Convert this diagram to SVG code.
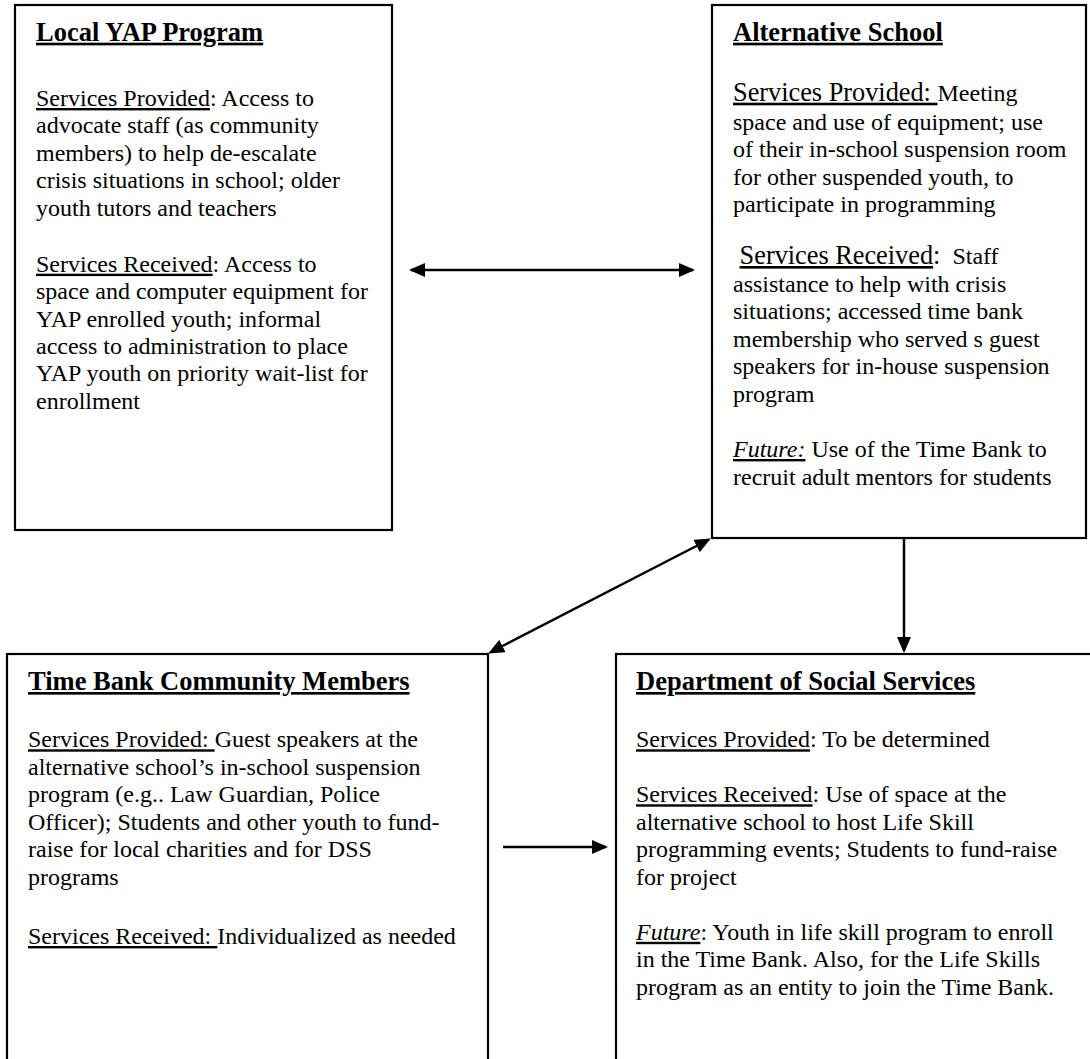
<svg xmlns="http://www.w3.org/2000/svg" width="1090" height="1059" viewBox="0 0 1090 1059">
  <style>
    .box { fill: #ffffff; stroke: #000000; stroke-width: 2.2; }
    text { font-family: "Liberation Serif", "Times New Roman", serif; font-size: 24px; fill: #000000; white-space: pre; }
    .title { font-weight: bold; font-size: 26.5px; text-decoration: underline; }
    .u { text-decoration: underline; }
    .big { font-size: 26.3px; }
    .i { font-style: italic; }
    .link { stroke: #000000; stroke-width: 2.5; fill: none; }
  </style>
  <defs>
    <marker id="arrow" viewBox="0 0 16 14" refX="14" refY="7" markerWidth="16" markerHeight="14" markerUnits="userSpaceOnUse" orient="auto-start-reverse">
      <path d="M0,0 L16,7 L0,14 Z" fill="#000000"/>
    </marker>
  </defs>

  <rect x="0" y="0" width="1090" height="1059" fill="#ffffff"/>

  <!-- Local YAP Program -->
  <g id="local-yap">
    <rect class="box" x="15" y="5" width="377" height="525"/>
    <text class="title" x="36" y="40.7">Local YAP Program</text>
    <text x="36" y="106"><tspan class="u">Services Provided</tspan>: Access to</text>
    <text x="36" y="133.4">advocate staff (as community</text>
    <text x="36" y="160.8">members) to help de-escalate</text>
    <text x="36" y="188.2">crisis situations in school; older</text>
    <text x="36" y="215.6">youth tutors and teachers</text>
    <text x="36" y="271.7"><tspan class="u">Services Received</tspan>: Access to</text>
    <text x="36" y="299.1">space and computer equipment for</text>
    <text x="36" y="326.5">YAP enrolled youth; informal</text>
    <text x="36" y="353.9">access to administration to place</text>
    <text x="36" y="381.3">YAP youth on priority wait-list for</text>
    <text x="36" y="408.7">enrollment</text>
  </g>

  <!-- Alternative School -->
  <g id="alternative-school">
    <rect class="box" x="712" y="5" width="374" height="533"/>
    <text class="title" x="733" y="40.7">Alternative School</text>
    <text x="733" y="100.7"><tspan class="u big">Services Provided: </tspan>Meeting</text>
    <text x="733" y="130">space and use of equipment; use</text>
    <text x="733" y="157.4">of their in-school suspension room</text>
    <text x="733" y="184.8">for other suspended youth, to</text>
    <text x="733" y="212.2">participate in programming</text>
    <text x="733" y="264"><tspan class="big"> </tspan><tspan class="u big">Services Received</tspan><tspan class="big">:</tspan>  Staff</text>
    <text x="733" y="291.6">assistance to help with crisis</text>
    <text x="733" y="319.2">situations; accessed time bank</text>
    <text x="733" y="346.8">membership who served s guest</text>
    <text x="733" y="374.4">speakers for in-house suspension</text>
    <text x="733" y="402">program</text>
    <text x="733" y="457"><tspan class="u i">Future:</tspan> Use of the Time Bank to</text>
    <text x="733" y="485">recruit adult mentors for students</text>
  </g>

  <!-- Time Bank Community Members -->
  <g id="time-bank">
    <rect class="box" x="7" y="654" width="481" height="420"/>
    <text class="title" x="28" y="690">Time Bank Community Members</text>
    <text x="28" y="747.3"><tspan class="u">Services Provided: </tspan>Guest speakers at the</text>
    <text x="28" y="774.8">alternative school’s in-school suspension</text>
    <text x="28" y="802.3">program (e.g.. Law Guardian, Police</text>
    <text x="28" y="829.8">Officer); Students and other youth to fund-</text>
    <text x="28" y="857.3">raise for local charities and for DSS</text>
    <text x="28" y="884.8">programs</text>
    <text x="28" y="944"><tspan class="u">Services Received: </tspan>Individualized as needed</text>
  </g>

  <!-- Department of Social Services -->
  <g id="dss">
    <rect class="box" x="616" y="654" width="500" height="420"/>
    <text class="title" x="636" y="690">Department of Social Services</text>
    <text x="636" y="747.3"><tspan class="u">Services Provided</tspan>: To be determined</text>
    <text x="636" y="802.3"><tspan class="u">Services Received</tspan>: Use of space at the</text>
    <text x="636" y="829.8">alternative school to host Life Skill</text>
    <text x="636" y="857.3">programming events; Students to fund-raise</text>
    <text x="636" y="884.8">for project</text>
    <text x="636" y="939.8"><tspan class="u i">Future</tspan>: Youth in life skill program to enroll</text>
    <text x="636" y="967.3">in the Time Bank. Also, for the Life Skills</text>
    <text x="636" y="994.8">program as an entity to join the Time Bank.</text>
  </g>

  <!-- Connectors -->
  <g id="connectors">
    <line class="link" x1="411" y1="270" x2="693" y2="270" marker-start="url(#arrow)" marker-end="url(#arrow)"/>
    <line class="link" x1="490" y1="652.5" x2="709" y2="539.5" marker-start="url(#arrow)" marker-end="url(#arrow)"/>
    <line class="link" x1="904" y1="539" x2="904" y2="651" marker-end="url(#arrow)"/>
    <line class="link" x1="503" y1="847" x2="606" y2="847" marker-end="url(#arrow)"/>
  </g>
</svg>
